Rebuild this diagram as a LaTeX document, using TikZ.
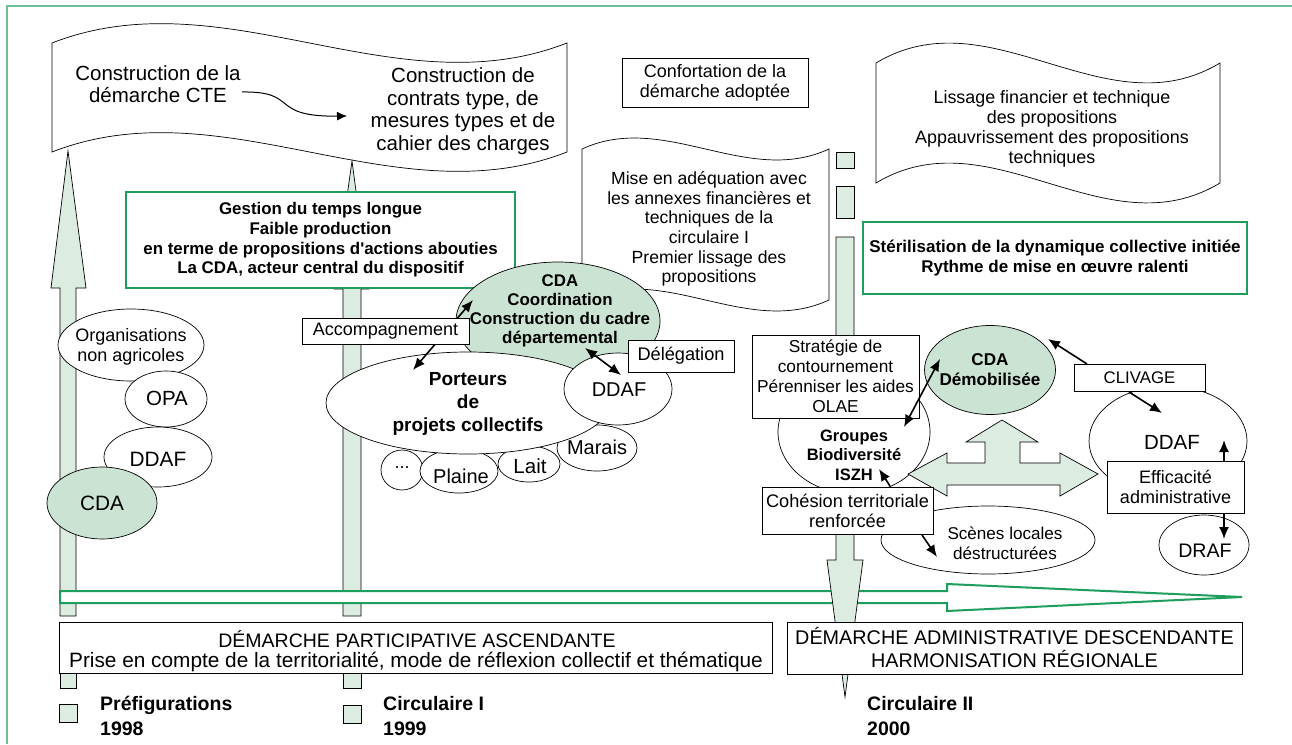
\documentclass[tikz,border=0pt]{standalone}
\usepackage{fontspec}
\setmainfont{Liberation Sans}
\usetikzlibrary{shapes.geometric,arrows.meta}
\definecolor{framegreen}{RGB}{110,192,148}
\definecolor{boxgreen}{RGB}{30,158,92}
\definecolor{lightfill}{RGB}{221,236,225}
\definecolor{ellgreen}{RGB}{202,227,210}
\newcommand\myfs[2]{\fontsize{#1}{#2}\selectfont}
\begin{document}
\begin{tikzpicture}[x=1pt,y=-1pt,
 txt/.style={inner sep=0pt, align=center},
 wbox/.style={draw=black, line width=0.7pt, fill=white, inner sep=0pt, align=center},
 gbox/.style={draw=boxgreen, line width=2pt, fill=white, inner sep=0pt, align=center},
 ell/.style={ellipse, draw=black, line width=0.7pt, fill=white, inner sep=0pt},
 gell/.style={ell, fill=ellgreen},
 blk/.style={draw=black, line width=0.7pt, fill=lightfill},
 flagline/.style={draw=black, line width=0.7pt, fill=white},
 arr/.style={line width=1.6pt, -{Latex[length=12pt,width=10pt]}},
 darr/.style={line width=1.6pt, {Latex[length=12pt,width=10pt]}-{Latex[length=12pt,width=10pt]}},
]
\useasboundingbox (0,0) rectangle (1292,744);
\fill[white] (0,0) rectangle (1292,744);
% frame
\draw[framegreen, line width=1.5pt] (7,744) -- (7,6) -- (1292,6);

% flags
\draw[flagline] (52,43) .. controls (223.7,-24) and (395.3,110) .. (567,43) -- (567,152) .. controls (395.3,219) and (223.7,85) .. (52,152) -- cycle;
\draw[flagline] (876,63) .. controls (990.7,-6) and (1105.3,132) .. (1220,63) -- (1220,183) .. controls (1105.3,252) and (990.7,114) .. (876,183) -- cycle;
\draw[flagline] (582,149) .. controls (664.3,111) and (746.7,187) .. (829,149) -- (829,300) .. controls (746.7,338) and (664.3,262) .. (582,300) -- cycle;

\node[txt, font=\myfs{20.5}{22.4}] (f1a) at (158,84) {Construction de la\\démarche CTE};
\node[txt, font=\myfs{20.5}{22.6}] (f1b) at (463,111) {Construction de\\contrats type, de\\mesures types et de\\cahier des charges};
\coordinate (cvA) at (242,92);
\coordinate (cvB) at (347,116);
\draw[line width=1pt, -{Latex[length=10pt,width=9pt]}] (cvA) .. controls (300,91) and (268,117) .. (cvB);

\node[txt, font=\myfs{17.6}{19.6}] (f2) at (709,229) {Mise en adéquation avec\\les annexes financières et\\techniques de la\\circulaire I\\Premier lissage des\\propositions};
\node[txt, font=\myfs{17.9}{20}] (f3) at (1052,129) {Lissage financier et technique\\des propositions\\Appauvrissement des propositions\\techniques};

% vertical block arrows 1 and 2
\draw[blk] (68,151) -- (86,288) -- (76,288) -- (76,616) -- (60,616) -- (60,288) -- (51,288) -- cycle;
\draw[blk] (60,660) rectangle (76,688);
\draw[blk] (59,704) rectangle (77,722);
\draw[blk] (352,161) -- (369,289) -- (361,289) -- (361,616) -- (343,616) -- (343,289) -- (334,289) -- cycle;
\draw[blk] (343,660) rectangle (361,688);
\draw[blk] (343,705) rectangle (361,723);

% green horizontal arrow
\draw[draw=boxgreen, line width=2pt, fill=white] (60,591) -- (947,591) -- (947,584) -- (1242,597) -- (947,611) -- (947,603) -- (60,603) -- cycle;

% column 3
\draw[blk] (836,152) rectangle (854,168);
\draw[blk] (836,186) rectangle (854,218);
\draw[blk] (836,237) -- (854,237) -- (854,560) -- (863,560) -- (845,697) -- (827,560) -- (836,560) -- cycle;

% top boxes
\node[wbox, minimum width=186pt, minimum height=49pt, font=\myfs{18}{20}] (conf) at (715,82.5) {Confortation de la\\démarche adoptée};
\node[gbox, minimum width=389pt, minimum height=96pt, font={\bfseries\myfs{16.9}{19.7}}] (g1) at (320.5,240) {Gestion du temps longue\\Faible production\\en terme de propositions d\textquotesingle actions abouties\\La CDA, acteur central du dispositif};
\node[gbox, minimum width=384pt, minimum height=72pt, font={\bfseries\myfs{17}{20}}] (g2) at (1055,258) {Stérilisation de la dynamique collective initiée\\Rythme de mise en œuvre ralenti};

% left cluster
\node[ell, minimum width=146pt, minimum height=72pt] (org) at (131,345) {};
\node[txt, font=\myfs{18}{20}] (orgT) at (131,347) {Organisations\\non agricoles};
\node[ell, minimum width=82pt, minimum height=56pt] (opa) at (166,399) {};
\node[txt, font=\myfs{20.5}{22}] (opaT) at (167,398) {OPA};
\node[ell, minimum width=108pt, minimum height=60pt] (ddafL) at (158,457) {};
\node[txt, font=\myfs{20.8}{22}] (ddafLT) at (158,459) {DDAF};
\node[gell, minimum width=110pt, minimum height=72pt] (cdaL) at (102,503) {};
\node[txt, font=\myfs{20.8}{22}] (cdaLT) at (102,503) {CDA};

% center cluster
\node[ell, minimum width=42pt, minimum height=40pt] (dots) at (402,470) {};
\node[txt, font=\myfs{18}{20}] (dotsT) at (402,468) {...};
\node[ell, minimum width=78pt, minimum height=44pt] (plaine) at (459,471) {};
\node[txt, font=\myfs{20}{22}] (plaineT) at (461,476) {Plaine};
\node[ell, minimum width=62pt, minimum height=36pt] (lait) at (529,464) {};
\node[txt, font=\myfs{20.5}{22}] (laitT) at (530,466) {Lait};
\node[ell, minimum width=80pt, minimum height=46pt] (marais) at (597,448) {};
\node[txt, font=\myfs{20}{22}] (maraisT) at (597,447) {Marais};
\node[gell, minimum width=204pt, minimum height=118pt] (cdaC) at (558,321) {};
\node[ell, minimum width=284pt, minimum height=102pt] (port) at (468,403) {};
\node[ell, minimum width=108pt, minimum height=72pt] (ddafC) at (618,389) {};
\node[txt, font={\bfseries\myfs{16.9}{19}}] (cdaCT) at (560,311) {CDA\\Coordination\\Construction du cadre\\départemental};
\node[txt, font={\bfseries\myfs{19}{23}}] (portT) at (468,404) {Porteurs\\de\\projets collectifs};
\node[txt, font=\myfs{20}{22}] (ddafCT) at (619,390) {DDAF};
\coordinate (accA) at (413,370);
\coordinate (accB) at (473,300);
\draw[darr] (accA) -- (accB);
\coordinate (delA) at (585,348);
\coordinate (delB) at (621,375);
\draw[darr] (delA) -- (delB);
\node[wbox, minimum width=167pt, minimum height=26pt, font=\myfs{18}{20}] (accomp) at (385.5,331) {Accompagnement};
\node[wbox, minimum width=106pt, minimum height=32pt, font=\myfs{18.2}{20}] (deleg) at (681,356) {Délégation};

% right cluster
\node[ell, minimum width=152pt, minimum height=124pt] (grp) at (854,432) {};
\node[ell, minimum width=214pt, minimum height=68pt] (scenes) at (988,540) {};
\node[txt, font=\myfs{17.1}{20}] (scenesT) at (1005,543) {Scènes locales\\déstructurées};
\draw[blk] (1002,420) -- (1038,442) -- (1020,442) -- (1020,463) -- (1060,463) -- (1060,453) -- (1098,474) -- (1060,496) -- (1060,485) -- (947,485) -- (947,496) -- (908,474) -- (947,453) -- (947,463) -- (985,463) -- (985,442) -- (966,442) -- cycle;
\node[gell, minimum width=131pt, minimum height=89pt] (cdaR) at (990,370) {};
\node[txt, font={\bfseries\myfs{17.1}{20}}] (cdaRT) at (990,370) {CDA\\Démobilisée};
\node[ell, minimum width=158pt, minimum height=110pt] (ddafR) at (1168,441) {};
\node[txt, font=\myfs{20.5}{22}] (ddafRT) at (1172,442) {DDAF};
\node[ell, minimum width=90pt, minimum height=60pt] (draf) at (1204,545) {};
\node[txt, font=\myfs{19.6}{22}] (drafT) at (1205,551) {DRAF};
\node[txt, font={\bfseries\myfs{16.5}{19.5}}] (grpT) at (854,455) {Groupes\\Biodiversité\\ISZH};
\node[wbox, minimum width=167pt, minimum height=83pt, font=\myfs{17.3}{20}] (strat) at (835.5,376.5) {Stratégie de\\contournement\\Pérenniser les aides\\OLAE};
\node[wbox, minimum width=171pt, minimum height=47pt, font=\myfs{18.2}{20}] (cohes) at (847.5,510.5) {Cohésion territoriale\\renforcée};
\node[wbox, minimum width=131pt, minimum height=27pt, font=\myfs{16.8}{20}] (cliv) at (1139.5,377.5) {CLIVAGE};
\node[wbox, minimum width=137pt, minimum height=52pt, font=\myfs{18}{20}] (effic) at (1175.5,487) {Efficacité\\administrative};
\coordinate (gdA) at (904,427);
\coordinate (gdB) at (940,359);
\draw[darr] (gdA) -- (gdB);
\coordinate (chA) at (890,486);
\coordinate (chB) at (879,469);
\draw[arr] (chA) -- (chB);
\coordinate (csA) at (922,535);
\coordinate (csB) at (937,557);
\draw[arr] (csA) -- (csB);
\coordinate (clA) at (1087,364);
\coordinate (clB) at (1048,339);
\draw[arr] (clA) -- (clB);
\coordinate (cdA) at (1129,392);
\coordinate (cdB) at (1162,413);
\draw[arr] (cdA) -- (cdB);
\coordinate (euA) at (1224,461);
\coordinate (euB) at (1224,440);
\draw[arr] (euA) -- (euB);
\coordinate (edA) at (1224,513);
\coordinate (edB) at (1224,539);
\draw[arr] (edA) -- (edB);

% bottom boxes
\node[wbox, minimum width=713pt, minimum height=51pt] (bl) at (415.5,647.5) {};
\node[txt, font=\myfs{19.5}{22}] (blT1) at (417,639) {DÉMARCHE PARTICIPATIVE ASCENDANTE};
\node[txt, font=\myfs{20.8}{22}] (blT2) at (416,662) {Prise en compte de la territorialité, mode de réflexion collectif et thématique};
\node[wbox, minimum width=455pt, minimum height=52pt, font=\myfs{19.8}{23}] (br) at (1014.5,648) {DÉMARCHE ADMINISTRATIVE DESCENDANTE\\HARMONISATION RÉGIONALE};

\node[txt, anchor=west, align=left, font={\bfseries\myfs{19.5}{25}}] (pre) at (100,715.5) {Préfigurations\\1998};
\node[txt, anchor=west, align=left, font={\bfseries\myfs{19.5}{25}}] (cir1) at (383,716.5) {Circulaire I\\1999};
\node[txt, anchor=west, align=left, font={\bfseries\myfs{19.5}{25}}] (cir2) at (867,716.5) {Circulaire II\\2000};
\end{tikzpicture}
\end{document}
